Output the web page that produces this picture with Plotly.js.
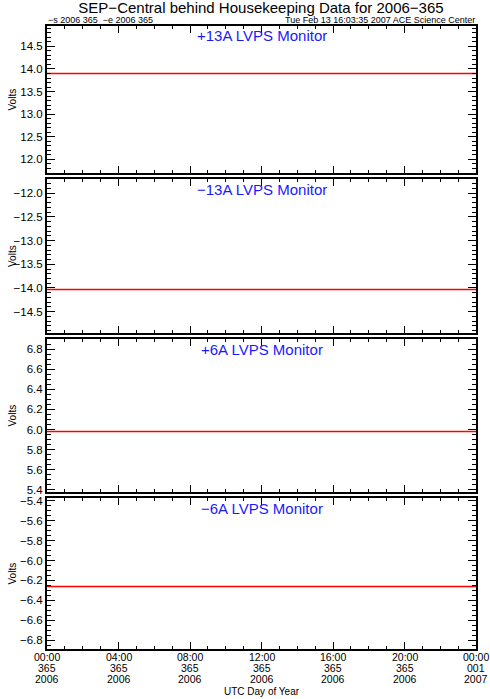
<!DOCTYPE html>
<html>
<head>
<meta charset="utf-8">
<script src="https://cdn.plot.ly/plotly-3.0.1.min.js"></script>
<style>html,body{margin:0;padding:0;background:#fff;}#chart{width:490px;height:699px;}</style>
</head>
<body>
<div id="chart"></div>
<script>
// ---- data ----
const times = ['2006-12-31 00:00', '2007-01-01 00:00'];
const plus13A = [13.90, 13.90];
const minus13A = [-14.03, -14.03];
const plus6A = [5.98, 5.98];
const minus6A = [-6.26, -6.26];
const panelTitles = ['+13A LVPS Monitor', '\u221213A LVPS Monitor', '+6A LVPS Monitor', '\u22126A LVPS Monitor'];
const xTickVals = ['2006-12-31 00:00', '2006-12-31 04:00', '2006-12-31 08:00', '2006-12-31 12:00', '2006-12-31 16:00', '2006-12-31 20:00', '2007-01-01 00:00'];
const xTickTime = ['00:00', '04:00', '08:00', '12:00', '16:00', '20:00', '00:00'];
const xTickDoy = ['365', '365', '365', '365', '365', '365', '001'];
const xTickYear = ['2006', '2006', '2006', '2006', '2006', '2006', '2007'];

// ---- layout helpers ----
const W = 490, H = 699;
const L = 47, R = 476, T = 26, B = 649;
const PH = B - T;
function py(px) { return (B - px) / PH; }
const panels = [
  {top: 26, bot: 173, range: [11.70, 14.95], dtick: 0.5, minor: 0.1},
  {top: 179, bot: 333, range: [-14.95, -11.70], dtick: 0.5, minor: 0.1},
  {top: 339, bot: 492, range: [5.38, 6.90], dtick: 0.2, minor: 0.05},
  {top: 498, bot: 649, range: [-6.89, -5.37], dtick: 0.2, minor: 0.05}
];
const series = [plus13A, minus13A, plus6A, minus6A];
const FONT = 'Liberation Sans, Arial, sans-serif';

const data = [];
const layout = {
  width: W, height: H,
  margin: {l: L, r: W - R, t: T, b: H - B, pad: 0},
  paper_bgcolor: '#fff', plot_bgcolor: '#fff',
  showlegend: false,
  font: {family: FONT, color: '#000', size: 11},
  title: {text: 'SEP\u2212Central behind Housekeeping Data for 2006\u2212365', x: 261 / W, xanchor: 'center', y: 1 - 8 / H, yanchor: 'middle', font: {size: 15, family: FONT, color: '#000'}},
  annotations: []
};

panels.forEach((p, i) => {
  const n = i + 1;
  const sfx = n === 1 ? '' : String(n);
  data.push({
    x: times, y: series[i], type: 'scatter', mode: 'lines',
    line: {color: '#ff0000', width: 1.5},
    xaxis: 'x' + sfx, yaxis: 'y' + sfx,
    hoverinfo: 'skip'
  });
  layout['xaxis' + sfx] = {
    type: 'date', range: [times[0], times[times.length - 1]],
    domain: [0, 1], anchor: 'y' + sfx,
    tickmode: 'array', tickvals: xTickVals,
    showticklabels: false,
    ticks: 'inside', ticklen: 7, tickwidth: 1, tickcolor: '#000',
    minor: {dtick: 3600000, tick0: '2006-12-31 00:00', ticks: 'inside', ticklen: 3, tickwidth: 1, tickcolor: '#000', showgrid: false},
    showline: true, linecolor: '#000', linewidth: 2, mirror: 'allticks',
    showgrid: false, zeroline: false
  };
  layout['yaxis' + sfx] = {
    range: p.range, domain: [py(p.bot), py(p.top)], anchor: 'x' + sfx,
    tickmode: 'linear', dtick: p.dtick, tick0: 0, tickformat: '.1f',
    ticks: 'inside', ticklen: 8, tickwidth: 1, tickcolor: '#000',
    minor: {dtick: p.minor, tick0: 0, ticks: 'inside', ticklen: 4, tickwidth: 1, tickcolor: '#000', showgrid: false},
    showline: true, linecolor: '#000', linewidth: 2, mirror: 'allticks',
    showgrid: false, zeroline: false,
    tickfont: {size: 11.5, family: FONT, color: '#000'}
  };
  layout.annotations.push({
    text: panelTitles[i], xref: 'paper', yref: 'paper', x: 0.5, y: py(p.top + 10),
    xanchor: 'center', yanchor: 'middle', showarrow: false,
    font: {size: 15, family: FONT, color: '#1a1aff'}
  });
  layout.annotations.push({
    text: 'Volts', xref: 'paper', yref: 'paper', x: (12 - L) / (R - L), y: py((p.top + p.bot) / 2),
    xanchor: 'center', yanchor: 'middle', textangle: -90, showarrow: false,
    font: {size: 10, family: FONT, color: '#000'}
  });
});

// bottom x tick labels, three rows, placed through the bottom x axis scale
const rows = [xTickTime, xTickDoy, xTickYear];
const rowY = [656.5, 667.5, 678.5];
rows.forEach((row, r) => {
  row.forEach((txt, k) => {
    layout.annotations.push({
      text: txt, xref: 'x4', yref: 'paper', x: xTickVals[k], y: py(rowY[r]),
      xanchor: 'center', yanchor: 'middle', showarrow: false, borderpad: 0,
      font: {size: 10.5, family: FONT, color: '#000'}
    });
  });
});

layout.annotations.push({
  text: '\u2212s 2006 365  \u2212e 2006 365', xref: 'paper', yref: 'paper', x: 0, y: py(20),
  xanchor: 'left', yanchor: 'middle', showarrow: false, borderpad: 0, font: {size: 9, family: FONT, color: '#000'}
});
layout.annotations.push({
  text: 'Tue Feb 13 16:03:35 2007 ACE Science Center', xref: 'paper', yref: 'paper', x: 1, y: py(20),
  xanchor: 'right', yanchor: 'middle', showarrow: false, borderpad: 0, font: {size: 9, family: FONT, color: '#000'}
});
layout.annotations.push({
  text: 'UTC Day of Year', xref: 'paper', yref: 'paper', x: (262 - L) / (R - L), y: py(691.5),
  xanchor: 'center', yanchor: 'middle', showarrow: false, borderpad: 0, font: {size: 10, family: FONT, color: '#000'}
});

Plotly.newPlot('chart', data, layout, {staticPlot: true, displayModeBar: false});
</script>
</body>
</html>
